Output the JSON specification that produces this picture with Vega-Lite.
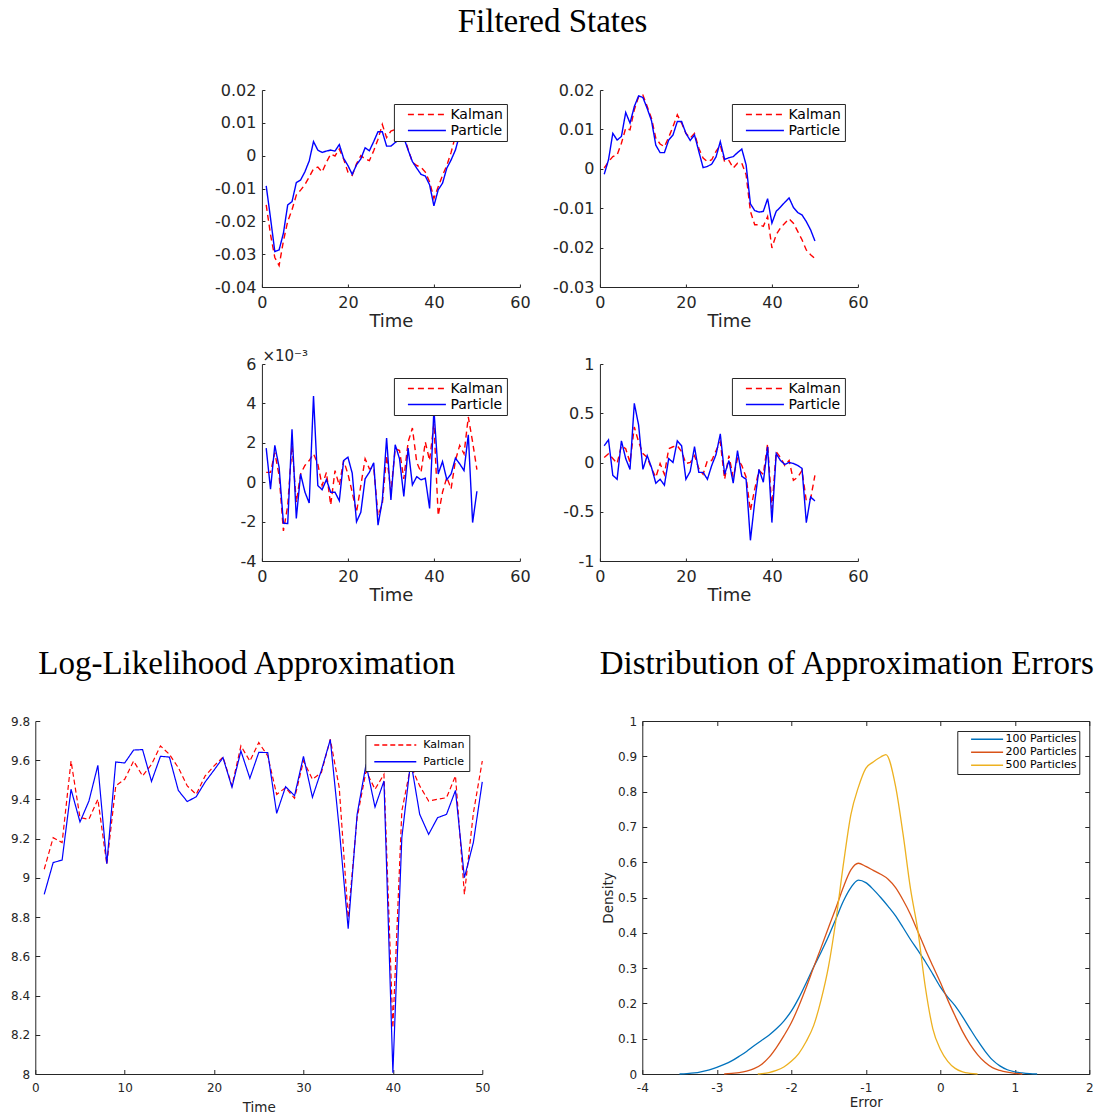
{
  "$schema": "https://vega.github.io/schema/vega-lite/v6.json",
  "background": "white",
  "padding": {"left": 10, "top": 6, "right": 0, "bottom": 0},
  "title": {"text": "Filtered States", "fontSize": 33, "offset": 43},
  "datasets": {
    "fs": [
      {"t":1,"s":"Kalman","a":-0.015,"b":0.0002,"c":0.0005,"d":0.05,"e":9.044},
      {"t":2,"s":"Kalman","a":-0.024,"b":0.0018,"c":0.0005,"d":0.09,"e":9.205},
      {"t":3,"s":"Kalman","a":-0.031,"b":0.0031,"c":0.0015,"d":0.04,"e":9.18},
      {"t":4,"s":"Kalman","a":-0.0335,"b":0.0035,"c":0.00034,"d":-0.01,"e":9.596},
      {"t":5,"s":"Kalman","a":-0.026,"b":0.0065,"c":-0.00247,"d":0.17,"e":9.307},
      {"t":6,"s":"Kalman","a":-0.02,"b":0.0103,"c":-0.0012,"d":0.14,"e":9.299},
      {"t":7,"s":"Kalman","a":-0.0165,"b":0.0099,"c":0.00187,"d":0,"e":9.401},
      {"t":8,"s":"Kalman","a":-0.012,"b":0.015,"c":-0.00102,"d":0.36,"e":9.069},
      {"t":9,"s":"Kalman","a":-0.0105,"b":0.0183,"c":0.00042,"d":0.21,"e":9.469},
      {"t":10,"s":"Kalman","a":-0.0088,"b":0.0187,"c":0.00085,"d":0.09,"e":9.503},
      {"t":11,"s":"Kalman","a":-0.0065,"b":0.0158,"c":0.0011,"d":0.05,"e":9.596},
      {"t":12,"s":"Kalman","a":-0.004,"b":0.0128,"c":0.00144,"d":-0.06,"e":9.52},
      {"t":13,"s":"Kalman","a":-0.0035,"b":0.0078,"c":0.00093,"d":-0.15,"e":9.579},
      {"t":14,"s":"Kalman","a":-0.005,"b":0.0063,"c":-0.00017,"d":-0.01,"e":9.673},
      {"t":15,"s":"Kalman","a":-0.002,"b":0.0056,"c":0.0005,"d":-0.12,"e":9.63},
      {"t":16,"s":"Kalman","a":0.0005,"b":0.008,"c":-0.00116,"d":0.14,"e":9.562},
      {"t":17,"s":"Kalman","a":-0.0001,"b":0.0107,"c":0.00059,"d":0.16,"e":9.469},
      {"t":18,"s":"Kalman","a":0.002,"b":0.0137,"c":-0.00017,"d":0.17,"e":9.426},
      {"t":19,"s":"Kalman","a":-0.001,"b":0.0116,"c":0.0011,"d":0.11,"e":9.52},
      {"t":20,"s":"Kalman","a":-0.005,"b":0.009,"c":0.00042,"d":-0.01,"e":9.571},
      {"t":21,"s":"Kalman","a":-0.006,"b":0.0078,"c":-0.00051,"d":0,"e":9.616},
      {"t":22,"s":"Kalman","a":-0.0025,"b":0.009,"c":-0.00153,"d":0.07,"e":9.469},
      {"t":23,"s":"Kalman","a":0,"b":0.0052,"c":-0.00017,"d":-0.06,"e":9.673},
      {"t":24,"s":"Kalman","a":-0.001,"b":0.0027,"c":0.00119,"d":-0.12,"e":9.596},
      {"t":25,"s":"Kalman","a":-0.0015,"b":0.0018,"c":0.00068,"d":0.02,"e":9.69},
      {"t":26,"s":"Kalman","a":0.0015,"b":0.0023,"c":0.00076,"d":0.02,"e":9.622},
      {"t":27,"s":"Kalman","a":0.005,"b":0.0044,"c":-0.0017,"d":0.12,"e":9.426},
      {"t":28,"s":"Kalman","a":0.0095,"b":0.006,"c":-0.00111,"d":0.21,"e":9.46},
      {"t":29,"s":"Kalman","a":0.0055,"b":0.0018,"c":0.00136,"d":-0.17,"e":9.406},
      {"t":30,"s":"Kalman","a":0.0075,"b":0.0021,"c":-0.00051,"d":0.07,"e":9.596},
      {"t":31,"s":"Kalman","a":0.008,"b":0.0002,"c":0.0017,"d":-0.15,"e":9.503},
      {"t":32,"s":"Kalman","a":0.0085,"b":0.0014,"c":0.00161,"d":0.04,"e":9.537},
      {"t":33,"s":"Kalman","a":0.006,"b":0.0014,"c":0.00017,"d":-0.03,"e":9.707},
      {"t":34,"s":"Kalman","a":0.002,"b":-0.0015,"c":0.00204,"d":-0.15,"e":9.46},
      {"t":35,"s":"Kalman","a":-0.002,"b":-0.0108,"c":0.00275,"d":-0.49,"e":8.797},
      {"t":36,"s":"Kalman","a":-0.003,"b":-0.0142,"c":0.00102,"d":-0.27,"e":9.307},
      {"t":37,"s":"Kalman","a":-0.0035,"b":-0.0142,"c":0.0005,"d":-0.08,"e":9.545},
      {"t":38,"s":"Kalman","a":-0.005,"b":-0.0146,"c":0.00204,"d":-0.12,"e":9.452},
      {"t":39,"s":"Kalman","a":-0.008,"b":-0.0121,"c":0.0011,"d":0.19,"e":9.528},
      {"t":40,"s":"Kalman","a":-0.013,"b":-0.0201,"c":0.00297,"d":-0.47,"e":8.236},
      {"t":41,"s":"Kalman","a":-0.0095,"b":-0.0167,"c":-0.0017,"d":0.11,"e":9.341},
      {"t":42,"s":"Kalman","a":-0.006,"b":-0.015,"c":-0.00051,"d":0.05,"e":9.571},
      {"t":43,"s":"Kalman","a":-0.003,"b":-0.0138,"c":0.00025,"d":-0.03,"e":9.469},
      {"t":44,"s":"Kalman","a":0.001,"b":-0.0127,"c":-0.00034,"d":0.02,"e":9.392},
      {"t":45,"s":"Kalman","a":0.006,"b":-0.0138,"c":0.0011,"d":-0.18,"e":9.401},
      {"t":46,"s":"Kalman","a":0.009,"b":-0.0159,"c":0.00187,"d":-0.15,"e":9.409},
      {"t":47,"s":"Kalman","a":0.0105,"b":-0.018,"c":0.00144,"d":-0.08,"e":9.52},
      {"t":48,"s":"Kalman","a":0.011,"b":-0.0206,"c":0.00331,"d":-0.39,"e":8.916},
      {"t":49,"s":"Kalman","a":0.012,"b":-0.0218,"c":0.00204,"d":-0.37,"e":9.33},
      {"t":50,"s":"Kalman","a":0.0125,"b":-0.0228,"c":0.00064,"d":-0.13,"e":9.596},
      {"t":1,"s":"Particle","a":-0.0092,"b":-0.0014,"c":0.00173,"d":0.17,"e":8.916},
      {"t":2,"s":"Particle","a":-0.019,"b":0.0023,"c":-0.00035,"d":0.23,"e":9.078},
      {"t":3,"s":"Particle","a":-0.0292,"b":0.009,"c":0.00187,"d":-0.13,"e":9.091},
      {"t":4,"s":"Particle","a":-0.0287,"b":0.0073,"c":0.00076,"d":-0.17,"e":9.452},
      {"t":5,"s":"Particle","a":-0.0236,"b":0.0082,"c":-0.00208,"d":0.22,"e":9.285},
      {"t":6,"s":"Particle","a":-0.015,"b":0.0143,"c":-0.0021,"d":0.04,"e":9.392},
      {"t":7,"s":"Particle","a":-0.014,"b":0.0116,"c":0.00268,"d":-0.07,"e":9.574},
      {"t":8,"s":"Particle","a":-0.0082,"b":0.0158,"c":-0.00184,"d":0.6,"e":9.072},
      {"t":9,"s":"Particle","a":-0.0074,"b":0.0185,"c":0.00042,"d":0.38,"e":9.591},
      {"t":10,"s":"Particle","a":-0.0049,"b":0.0181,"c":-0.0005,"d":-0.07,"e":9.586},
      {"t":11,"s":"Particle","a":-0.0016,"b":0.0153,"c":-0.00106,"d":0.07,"e":9.652},
      {"t":12,"s":"Particle","a":0.0043,"b":0.0122,"c":0.00437,"d":-0.05,"e":9.654},
      {"t":13,"s":"Particle","a":0.0017,"b":0.006,"c":-0.00017,"d":-0.21,"e":9.492},
      {"t":14,"s":"Particle","a":0.001,"b":0.0041,"c":-0.00038,"d":-0.17,"e":9.62},
      {"t":15,"s":"Particle","a":0.0014,"b":0.0041,"c":0.00013,"d":-0.23,"e":9.616},
      {"t":16,"s":"Particle","a":0.0017,"b":0.0073,"c":-0.00051,"d":0.04,"e":9.446},
      {"t":17,"s":"Particle","a":0.0014,"b":0.0086,"c":-0.00051,"d":0,"e":9.389},
      {"t":18,"s":"Particle","a":0.0034,"b":0.012,"c":-0.00094,"d":0.22,"e":9.414},
      {"t":19,"s":"Particle","a":-0.0008,"b":0.012,"c":0.0011,"d":0.17,"e":9.489},
      {"t":20,"s":"Particle","a":-0.003,"b":0.009,"c":0.00127,"d":-0.17,"e":9.55},
      {"t":21,"s":"Particle","a":-0.0057,"b":0.0072,"c":0.00046,"d":-0.09,"e":9.613},
      {"t":22,"s":"Particle","a":-0.0028,"b":0.0086,"c":-0.00201,"d":0.16,"e":9.462},
      {"t":23,"s":"Particle","a":-0.001,"b":0.0044,"c":-0.00153,"d":-0.1,"e":9.647},
      {"t":24,"s":"Particle","a":0.0024,"b":0.0003,"c":0.00017,"d":-0.1,"e":9.508},
      {"t":25,"s":"Particle","a":0.0015,"b":0.0006,"c":0.00051,"d":-0.17,"e":9.64},
      {"t":26,"s":"Particle","a":0.0043,"b":0.0012,"c":0.00099,"d":-0.03,"e":9.639},
      {"t":27,"s":"Particle","a":0.0073,"b":0.003,"c":-0.00218,"d":0.08,"e":9.329},
      {"t":28,"s":"Particle","a":0.0073,"b":0.0069,"c":-0.00094,"d":0.29,"e":9.465},
      {"t":29,"s":"Particle","a":0.0029,"b":0.0024,"c":0.00224,"d":-0.12,"e":9.419},
      {"t":30,"s":"Particle","a":0.0029,"b":0.0028,"c":-0.0009,"d":0.02,"e":9.62},
      {"t":31,"s":"Particle","a":0.004,"b":0.0031,"c":0.0019,"d":-0.21,"e":9.411},
      {"t":32,"s":"Particle","a":0.005,"b":0.0041,"c":0.00119,"d":0.12,"e":9.548},
      {"t":33,"s":"Particle","a":0.0055,"b":0.005,"c":-0.00072,"d":-0.14,"e":9.705},
      {"t":34,"s":"Particle","a":0.0017,"b":0.001,"c":0.00173,"d":-0.17,"e":9.25},
      {"t":35,"s":"Particle","a":-0.0018,"b":-0.0089,"c":-0.00014,"d":-0.79,"e":8.741},
      {"t":36,"s":"Particle","a":-0.0038,"b":-0.0106,"c":0.00028,"d":-0.4,"e":9.324},
      {"t":37,"s":"Particle","a":-0.0057,"b":-0.011,"c":0.00012,"d":-0.07,"e":9.579},
      {"t":38,"s":"Particle","a":-0.0062,"b":-0.0108,"c":0.0002,"d":-0.2,"e":9.361},
      {"t":39,"s":"Particle","a":-0.0089,"b":-0.0076,"c":-0.00133,"d":0.16,"e":9.494},
      {"t":40,"s":"Particle","a":-0.0153,"b":-0.0138,"c":0.0037,"d":-0.61,"e":8.007},
      {"t":41,"s":"Particle","a":-0.0104,"b":-0.0108,"c":0.00042,"d":0.09,"e":9.205},
      {"t":42,"s":"Particle","a":-0.0084,"b":-0.0097,"c":0.00105,"d":0.02,"e":9.596},
      {"t":43,"s":"Particle","a":-0.0038,"b":-0.0085,"c":0.00013,"d":-0.02,"e":9.324},
      {"t":44,"s":"Particle","a":-0.0013,"b":-0.0074,"c":0.00042,"d":0,"e":9.222},
      {"t":45,"s":"Particle","a":0.0017,"b":-0.0098,"c":0.00122,"d":-0.01,"e":9.307},
      {"t":46,"s":"Particle","a":0.0065,"b":-0.0111,"c":0.00093,"d":-0.03,"e":9.324},
      {"t":47,"s":"Particle","a":0.008,"b":-0.0117,"c":0.00059,"d":-0.06,"e":9.446},
      {"t":48,"s":"Particle","a":0.009,"b":-0.0134,"c":0.00241,"d":-0.61,"e":9.001},
      {"t":49,"s":"Particle","a":0.0095,"b":-0.0155,"c":-0.00205,"d":-0.35,"e":9.18},
      {"t":50,"s":"Particle","a":0.0105,"b":-0.0183,"c":-0.00046,"d":-0.39,"e":9.49}
    ],
    "dens": [
      {"x":-3.5,"n":"100 Particles","d":0},{"x":-3.4,"n":"100 Particles","d":0.001},{"x":-3.3,"n":"100 Particles","d":0.003},{"x":-3.2,"n":"100 Particles","d":0.007},{"x":-3.1,"n":"100 Particles","d":0.012},{"x":-3.0,"n":"100 Particles","d":0.019},{"x":-2.9,"n":"100 Particles","d":0.027},{"x":-2.8,"n":"100 Particles","d":0.037},{"x":-2.7,"n":"100 Particles","d":0.05},{"x":-2.6,"n":"100 Particles","d":0.064},{"x":-2.5,"n":"100 Particles","d":0.08},{"x":-2.4,"n":"100 Particles","d":0.095},{"x":-2.3,"n":"100 Particles","d":0.11},{"x":-2.2,"n":"100 Particles","d":0.128},{"x":-2.1,"n":"100 Particles","d":0.15},{"x":-2.0,"n":"100 Particles","d":0.178},{"x":-1.9,"n":"100 Particles","d":0.215},{"x":-1.8,"n":"100 Particles","d":0.258},{"x":-1.7,"n":"100 Particles","d":0.303},{"x":-1.6,"n":"100 Particles","d":0.345},{"x":-1.5,"n":"100 Particles","d":0.39},{"x":-1.4,"n":"100 Particles","d":0.44},{"x":-1.3,"n":"100 Particles","d":0.49},{"x":-1.2,"n":"100 Particles","d":0.528},{"x":-1.1,"n":"100 Particles","d":0.549},{"x":-1.0,"n":"100 Particles","d":0.542},{"x":-0.9,"n":"100 Particles","d":0.523},{"x":-0.8,"n":"100 Particles","d":0.5},{"x":-0.7,"n":"100 Particles","d":0.475},{"x":-0.6,"n":"100 Particles","d":0.448},{"x":-0.5,"n":"100 Particles","d":0.415},{"x":-0.4,"n":"100 Particles","d":0.381},{"x":-0.3,"n":"100 Particles","d":0.35},{"x":-0.2,"n":"100 Particles","d":0.318},{"x":-0.1,"n":"100 Particles","d":0.283},{"x":0,"n":"100 Particles","d":0.247},{"x":0.1,"n":"100 Particles","d":0.218},{"x":0.2,"n":"100 Particles","d":0.193},{"x":0.3,"n":"100 Particles","d":0.162},{"x":0.4,"n":"100 Particles","d":0.128},{"x":0.5,"n":"100 Particles","d":0.095},{"x":0.6,"n":"100 Particles","d":0.065},{"x":0.7,"n":"100 Particles","d":0.04},{"x":0.8,"n":"100 Particles","d":0.023},{"x":0.9,"n":"100 Particles","d":0.012},{"x":1.0,"n":"100 Particles","d":0.006},{"x":1.1,"n":"100 Particles","d":0.003},{"x":1.2,"n":"100 Particles","d":0.001},{"x":1.3,"n":"100 Particles","d":0},
      {"x":-2.9,"n":"200 Particles","d":0},{"x":-2.8,"n":"200 Particles","d":0.002},{"x":-2.7,"n":"200 Particles","d":0.004},{"x":-2.6,"n":"200 Particles","d":0.008},{"x":-2.5,"n":"200 Particles","d":0.015},{"x":-2.4,"n":"200 Particles","d":0.027},{"x":-2.3,"n":"200 Particles","d":0.047},{"x":-2.2,"n":"200 Particles","d":0.075},{"x":-2.1,"n":"200 Particles","d":0.108},{"x":-2.0,"n":"200 Particles","d":0.145},{"x":-1.9,"n":"200 Particles","d":0.192},{"x":-1.8,"n":"200 Particles","d":0.245},{"x":-1.7,"n":"200 Particles","d":0.302},{"x":-1.6,"n":"200 Particles","d":0.358},{"x":-1.5,"n":"200 Particles","d":0.415},{"x":-1.4,"n":"200 Particles","d":0.471},{"x":-1.3,"n":"200 Particles","d":0.53},{"x":-1.2,"n":"200 Particles","d":0.578},{"x":-1.1,"n":"200 Particles","d":0.597},{"x":-1.0,"n":"200 Particles","d":0.588},{"x":-0.9,"n":"200 Particles","d":0.577},{"x":-0.8,"n":"200 Particles","d":0.566},{"x":-0.7,"n":"200 Particles","d":0.552},{"x":-0.6,"n":"200 Particles","d":0.528},{"x":-0.5,"n":"200 Particles","d":0.493},{"x":-0.4,"n":"200 Particles","d":0.452},{"x":-0.3,"n":"200 Particles","d":0.403},{"x":-0.2,"n":"200 Particles","d":0.353},{"x":-0.1,"n":"200 Particles","d":0.306},{"x":0,"n":"200 Particles","d":0.26},{"x":0.1,"n":"200 Particles","d":0.21},{"x":0.2,"n":"200 Particles","d":0.164},{"x":0.3,"n":"200 Particles","d":0.12},{"x":0.4,"n":"200 Particles","d":0.084},{"x":0.5,"n":"200 Particles","d":0.055},{"x":0.6,"n":"200 Particles","d":0.033},{"x":0.7,"n":"200 Particles","d":0.018},{"x":0.8,"n":"200 Particles","d":0.01},{"x":0.9,"n":"200 Particles","d":0.005},{"x":1.0,"n":"200 Particles","d":0.002},{"x":1.1,"n":"200 Particles","d":0},
      {"x":-2.45,"n":"500 Particles","d":0},{"x":-2.4,"n":"500 Particles","d":0.001},{"x":-2.3,"n":"500 Particles","d":0.004},{"x":-2.2,"n":"500 Particles","d":0.01},{"x":-2.1,"n":"500 Particles","d":0.02},{"x":-2.0,"n":"500 Particles","d":0.036},{"x":-1.9,"n":"500 Particles","d":0.058},{"x":-1.8,"n":"500 Particles","d":0.092},{"x":-1.7,"n":"500 Particles","d":0.137},{"x":-1.6,"n":"500 Particles","d":0.21},{"x":-1.5,"n":"500 Particles","d":0.305},{"x":-1.4,"n":"500 Particles","d":0.437},{"x":-1.3,"n":"500 Particles","d":0.595},{"x":-1.2,"n":"500 Particles","d":0.735},{"x":-1.1,"n":"500 Particles","d":0.812},{"x":-1.0,"n":"500 Particles","d":0.866},{"x":-0.9,"n":"500 Particles","d":0.884},{"x":-0.8,"n":"500 Particles","d":0.898},{"x":-0.73,"n":"500 Particles","d":0.905},{"x":-0.6,"n":"500 Particles","d":0.815},{"x":-0.5,"n":"500 Particles","d":0.68},{"x":-0.4,"n":"500 Particles","d":0.525},{"x":-0.3,"n":"500 Particles","d":0.405},{"x":-0.2,"n":"500 Particles","d":0.245},{"x":-0.1,"n":"500 Particles","d":0.128},{"x":0,"n":"500 Particles","d":0.07},{"x":0.1,"n":"500 Particles","d":0.036},{"x":0.2,"n":"500 Particles","d":0.016},{"x":0.3,"n":"500 Particles","d":0.006},{"x":0.4,"n":"500 Particles","d":0.002},{"x":0.5,"n":"500 Particles","d":0}
    ]
  },
  "vconcat": [
    {
      "columns": 2,
      "bounds": "flush",
      "spacing": {"row": 77, "column": 80},
      "resolve": {"scale": {"color": "independent", "strokeDash": "independent"}, "legend": {"color": "independent", "strokeDash": "independent"}},
      "concat": [
        {
          "width": 258, "height": 197,
          "data": {"name": "fs"},
          "mark": {"type": "line", "strokeWidth": 1.4},
          "encoding": {
            "x": {"field": "t", "type": "quantitative", "scale": {"domain": [0, 60], "nice": false}, "axis": {"values": [0, 20, 40, 60], "title": "Time"}},
            "y": {"field": "a", "type": "quantitative", "scale": {"domain": [-0.04, 0.02], "nice": false, "zero": false}, "axis": {"values": [-0.04, -0.03, -0.02, -0.01, 0, 0.01, 0.02], "format": ".2~f", "title": null}},
            "color": {"field": "s", "type": "nominal", "scale": {"domain": ["Kalman", "Particle"], "range": ["#ff0000", "#0000ff"]}, "legend": {"title": null}},
            "strokeDash": {"field": "s", "type": "nominal", "scale": {"domain": ["Kalman", "Particle"], "range": [[6, 4], [1, 0]]}, "legend": {"title": null}}
          }
        },
        {
          "width": 258, "height": 197,
          "data": {"name": "fs"},
          "mark": {"type": "line", "strokeWidth": 1.4},
          "encoding": {
            "x": {"field": "t", "type": "quantitative", "scale": {"domain": [0, 60], "nice": false}, "axis": {"values": [0, 20, 40, 60], "title": "Time"}},
            "y": {"field": "b", "type": "quantitative", "scale": {"domain": [-0.03, 0.02], "nice": false, "zero": false}, "axis": {"values": [-0.03, -0.02, -0.01, 0, 0.01, 0.02], "format": ".2~f", "title": null}},
            "color": {"field": "s", "type": "nominal", "scale": {"domain": ["Kalman", "Particle"], "range": ["#ff0000", "#0000ff"]}, "legend": {"title": null}},
            "strokeDash": {"field": "s", "type": "nominal", "scale": {"domain": ["Kalman", "Particle"], "range": [[6, 4], [1, 0]]}, "legend": {"title": null}}
          }
        },
        {
          "width": 258, "height": 197,
          "data": {"name": "fs"},
          "mark": {"type": "line", "strokeWidth": 1.4},
          "encoding": {
            "x": {"field": "t", "type": "quantitative", "scale": {"domain": [0, 60], "nice": false}, "axis": {"values": [0, 20, 40, 60], "title": "Time"}},
            "y": {"field": "c", "type": "quantitative", "scale": {"domain": [-0.004, 0.006], "nice": false, "zero": false}, "axis": {"values": [-0.004, -0.002, 0, 0.002, 0.004, 0.006], "labelExpr": "round(datum.value * 1000)", "title": "×10⁻³", "titleAngle": 0, "titleAlign": "left", "titleBaseline": "alphabetic", "titleX": 0, "titleY": -4, "titleFontSize": 15}},
            "color": {"field": "s", "type": "nominal", "scale": {"domain": ["Kalman", "Particle"], "range": ["#ff0000", "#0000ff"]}, "legend": {"title": null}},
            "strokeDash": {"field": "s", "type": "nominal", "scale": {"domain": ["Kalman", "Particle"], "range": [[6, 4], [1, 0]]}, "legend": {"title": null}}
          }
        },
        {
          "width": 258, "height": 197,
          "data": {"name": "fs"},
          "mark": {"type": "line", "strokeWidth": 1.4},
          "encoding": {
            "x": {"field": "t", "type": "quantitative", "scale": {"domain": [0, 60], "nice": false}, "axis": {"values": [0, 20, 40, 60], "title": "Time"}},
            "y": {"field": "d", "type": "quantitative", "scale": {"domain": [-1, 1], "nice": false, "zero": false}, "axis": {"values": [-1, -0.5, 0, 0.5, 1], "format": ".1~f", "title": null}},
            "color": {"field": "s", "type": "nominal", "scale": {"domain": ["Kalman", "Particle"], "range": ["#ff0000", "#0000ff"]}, "legend": {"title": null}},
            "strokeDash": {"field": "s", "type": "nominal", "scale": {"domain": ["Kalman", "Particle"], "range": [[6, 4], [1, 0]]}, "legend": {"title": null}}
          }
        }
      ]
    },
    {
      "bounds": "flush",
      "spacing": 160,
      "resolve": {"scale": {"color": "independent", "strokeDash": "independent"}, "legend": {"color": "independent", "strokeDash": "independent"}},
      "hconcat": [
        {
          "width": 447, "height": 353,
          "title": {"text": "Log-Likelihood Approximation", "fontSize": 33, "offset": 34, "dx": -12},
          "data": {"name": "fs"},
          "mark": {"type": "line", "strokeWidth": 1.2},
          "encoding": {
            "x": {"field": "t", "type": "quantitative", "scale": {"domain": [0, 50], "nice": false}, "axis": {"values": [0, 10, 20, 30, 40, 50], "title": "Time", "labelFontSize": 12, "titleFontSize": 13.5, "tickSize": -4.5, "labelPadding": 12.5, "titlePadding": 7}},
            "y": {"field": "e", "type": "quantitative", "scale": {"domain": [8, 9.8], "nice": false, "zero": false}, "axis": {"values": [8, 8.2, 8.4, 8.6, 8.8, 9, 9.2, 9.4, 9.6, 9.8], "format": ".1~f", "title": null, "labelFontSize": 12, "tickSize": -4.5, "labelPadding": 10.2}},
            "color": {"field": "s", "type": "nominal", "scale": {"domain": ["Kalman", "Particle"], "range": ["#ff0000", "#0000ff"]}, "legend": {"title": null, "offset": 13.5, "symbolSize": 110.25, "symbolOffset": 20, "labelOffset": 22, "labelFontSize": 11, "padding": 4, "rowPadding": 5.8}},
            "strokeDash": {"field": "s", "type": "nominal", "scale": {"domain": ["Kalman", "Particle"], "range": [[5, 3], [1, 0]]}, "legend": {"title": null, "offset": 13.5, "symbolSize": 110.25, "symbolOffset": 20, "labelOffset": 22, "labelFontSize": 11, "padding": 4, "rowPadding": 5.8}}
          }
        },
        {
          "width": 447, "height": 353,
          "title": {"text": "Distribution of Approximation Errors", "fontSize": 33, "offset": 34, "dx": -19},
          "data": {"name": "dens"},
          "layer": [
            {
              "mark": {"type": "line", "strokeWidth": 1.3, "interpolate": "monotone"},
              "encoding": {
                "x": {"field": "x", "type": "quantitative", "scale": {"domain": [-4, 2], "nice": false}, "axis": {"values": [-4, -3, -2, -1, 0, 1, 2], "title": "Error", "labelFontSize": 12, "titleFontSize": 13.5, "tickSize": -4.5, "labelPadding": 12.5, "titlePadding": 2}},
                "y": {"field": "d", "type": "quantitative", "scale": {"domain": [0, 1], "nice": false}, "axis": {"values": [0, 0.1, 0.2, 0.3, 0.4, 0.5, 0.6, 0.7, 0.8, 0.9, 1], "format": ".1~f", "title": "Density", "labelFontSize": 12, "titleFontSize": 13.5, "tickSize": -4.5, "labelPadding": 10.2, "titlePadding": 2}},
                "color": {"field": "n", "type": "nominal", "scale": {"domain": ["100 Particles", "200 Particles", "500 Particles"], "range": ["#0072BD", "#D95319", "#EDB120"]}, "legend": {"title": null, "offset": 10, "symbolSize": 64, "symbolOffset": 21.5, "labelOffset": 13, "labelFontSize": 11, "padding": 2.8, "rowPadding": 1}}
              }
            },
            {
              "mark": {"type": "line", "opacity": 0},
              "encoding": {
                "x": {"field": "x", "type": "quantitative", "axis": {"orient": "top", "values": [-4, -3, -2, -1, 0, 1, 2], "labels": false, "title": null, "tickSize": -4.5}},
                "y": {"field": "d", "type": "quantitative", "axis": {"orient": "right", "values": [0, 0.1, 0.2, 0.3, 0.4, 0.5, 0.6, 0.7, 0.8, 0.9, 1], "labels": false, "title": null, "tickSize": -4.5}},
                "detail": {"field": "n", "type": "nominal"}
              }
            }
          ],
          "resolve": {"axis": {"x": "independent", "y": "independent"}}
        }
      ]
    }
  ],
  "spacing": 44,
  "center": true,
  "resolve": {"scale": {"color": "independent", "strokeDash": "independent"}, "legend": {"color": "independent", "strokeDash": "independent"}},
  "config": {
    "view": {"stroke": null},
    "font": "DejaVu Sans",
    "title": {"font": "Liberation Serif", "fontWeight": "normal", "color": "#000000", "fontSize": 33, "anchor": "middle"},
    "axis": {"grid": false, "domainColor": "#262626", "domainWidth": 1, "tickColor": "#262626", "tickWidth": 1, "tickSize": -3, "labelColor": "#262626", "labelFont": "DejaVu Sans", "labelFontSize": 16, "labelPadding": 9, "labelFlush": false, "labelOverlap": false, "titleFont": "DejaVu Sans", "titleFontSize": 18, "titleFontWeight": "normal", "titleColor": "#262626", "titlePadding": 2},
    "axisX": {"labelPadding": 10},
    "legend": {"orient": "top-right", "offset": 13.5, "symbolType": "M-4,0H4", "symbolSize": 90.25, "symbolStrokeWidth": 1.5, "symbolOffset": 22.5, "labelOffset": 16.5, "labelFont": "DejaVu Sans", "labelFontSize": 14, "labelColor": "#000000", "strokeColor": "#262626", "fillColor": "#ffffff", "padding": 3.5, "rowPadding": 2, "cornerRadius": 0, "labelLimit": 300},
    "locale": {"number": {"decimal": ".", "thousands": ",", "grouping": [3], "currency": ["$", ""], "minus": "-"}}
  }
}
